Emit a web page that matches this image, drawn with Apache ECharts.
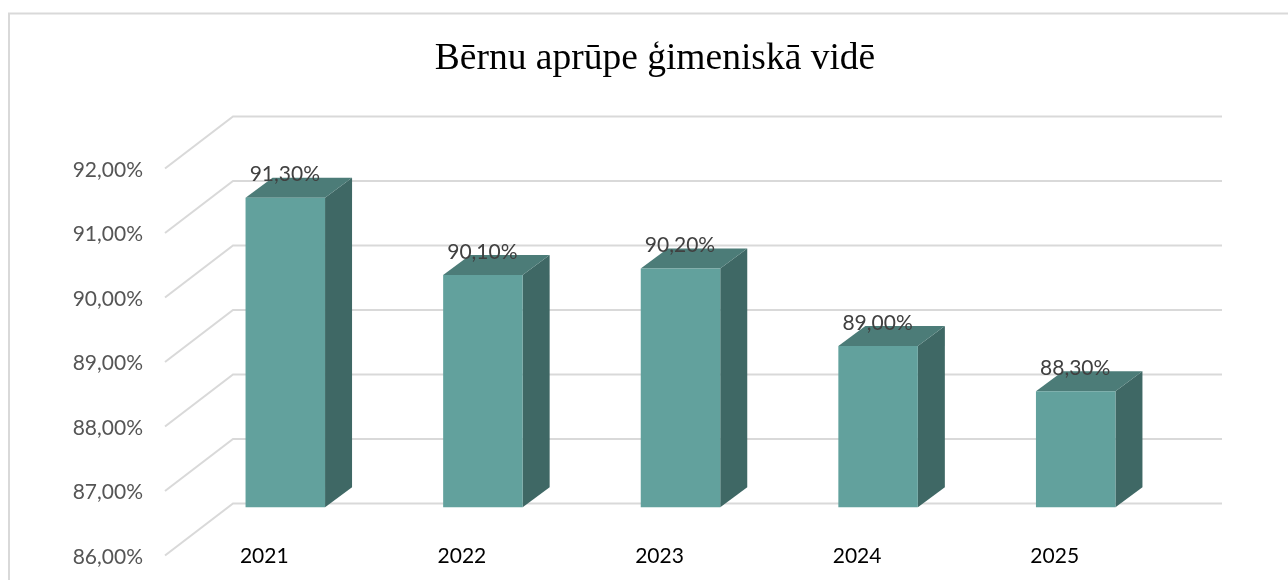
<!DOCTYPE html>
<html>
<head>
<meta charset="utf-8">
<style>html,body{margin:0;padding:0;background:#fff}#c{width:1288px;height:580px}</style>
<script src="https://cdn.jsdelivr.net/npm/echarts@6/dist/echarts.min.js"></script>
</head>
<body>
<div id="c"></div>
<script>
const titleText = 'Bērnu aprūpe ģimeniskā vidē';
const categories = ['2021', '2022', '2023', '2024', '2025'];
const values = [91.3, 90.1, 90.2, 89.0, 88.3];
const yTicks = [86, 87, 88, 89, 90, 91, 92];
const yMin = 86, yMax = 92, yStep = 1;
const barBaseValue = 86.5;

const fmt = v => v.toFixed(2).replace('.', ',') + '%';
const FONT = 'Lato, Carlito, Calibri, sans-serif';

const chart = echarts.init(document.getElementById('c'), null, {renderer: 'canvas'});
chart.setOption({
  animation: false,
  backgroundColor: '#ffffff',
  title: {
    text: titleText, left: 650, top: 35, textAlign: 'center',
    textStyle: {fontFamily: '"Liberation Serif", serif', fontSize: 37.5, fontWeight: 'normal', color: '#000000'}
  },
  graphic: [{
    type: 'rect', z: 0, silent: true,
    shape: {x: 9, y: 13.5, width: 1500, height: 800},
    style: {fill: 'none', stroke: '#d9d9d9', lineWidth: 2}
  }],
  grid: {left: 165, right: 135, top: 168.5, bottom: 24.5},
  xAxis: {
    type: 'category', data: categories,
    axisLine: {show: false}, axisTick: {show: false}, splitLine: {show: false},
    axisLabel: {color: '#000000', fontFamily: FONT, fontSize: 21, margin: -10, verticalAlign: 'top', padding: [0, 0, 0, 1]}
  },
  yAxis: {
    type: 'value', min: yMin, max: yMax, interval: yStep,
    axisLine: {show: false}, axisTick: {show: false}, splitLine: {show: false},
    axisLabel: {color: '#555555', fontFamily: FONT, fontSize: 21, margin: 22, verticalAlign: 'top', lineHeight: 3, formatter: fmt}
  },
  series: [
    {
      type: 'custom', name: 'grid', silent: true, z: 1,
      data: yTicks.map(v => [categories[0], v]),
      encode: {x: 0, y: 1},
      renderItem(params, api) {
        const y = api.coord([api.value(0), api.value(1)])[1];
        const cs = params.coordSys;
        const dx = 68, dy = -52;
        return {
          type: 'polyline',
          shape: {points: [[cs.x, y], [cs.x + dx, y + dy], [cs.x + cs.width + dx + 1, y + dy]]},
          style: {fill: 'none', stroke: '#d9d9d9', lineWidth: 2}
        };
      }
    },
    {
      type: 'custom', name: 'Bērnu aprūpe', z: 3,
      data: categories.map((c, i) => [c, values[i]]),
      encode: {x: 0, y: 1},
      renderItem(params, api) {
        const v = api.value(1);
        const p = api.coord([api.value(0), v]);
        const b = api.coord([api.value(0), barBaseValue]);
        const shiftX = 21.5, shiftY = -16, w = 79.5, dx = 27, dy = -20;
        const x0 = p[0] + shiftX - w / 2, x1 = x0 + w;
        const yt = p[1] + shiftY, yb = b[1] + shiftY;
        return {
          type: 'group',
          children: [
            {type: 'polygon', shape: {points: [[x1, yt], [x1 + dx, yt + dy], [x1 + dx, yb + dy], [x1, yb]]},
             style: {fill: '#3f6865'}},
            {type: 'polygon', shape: {points: [[x0, yt], [x0 + dx, yt + dy], [x1 + dx, yt + dy], [x1, yt]]},
             style: {fill: '#4c7c78'}},
            {type: 'rect', shape: {x: x0, y: yt, width: w, height: yb - yt},
             style: {fill: '#62a19d'}},
            {type: 'text', z2: 10, style: {
              text: fmt(v), x: x0 + w / 2 - 0.5, y: yt - 23, align: 'center', verticalAlign: 'middle',
              fill: '#404040', fontFamily: FONT, fontSize: 21
            }}
          ]
        };
      }
    }
  ]
});
</script>
</body>
</html>
